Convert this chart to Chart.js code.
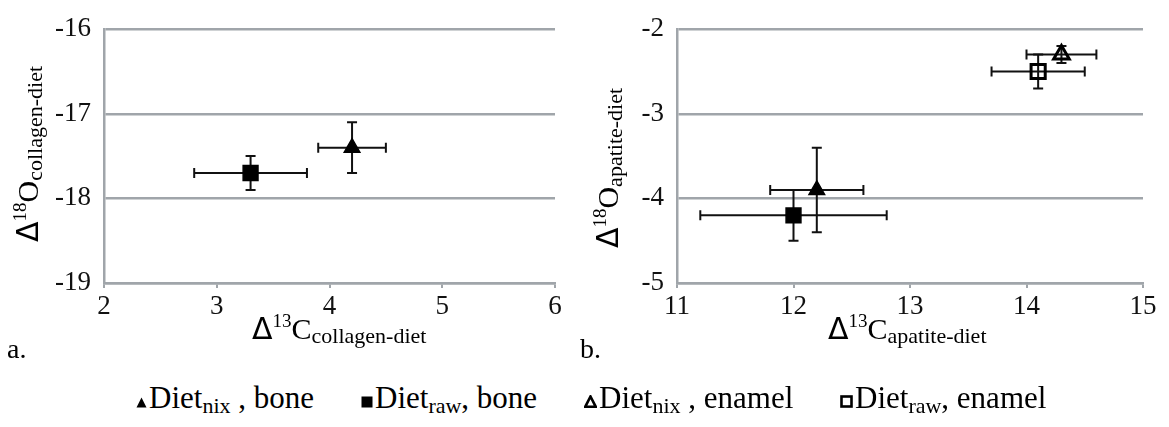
<!DOCTYPE html>
<html><head><meta charset="utf-8">
<script src="https://cdn.jsdelivr.net/npm/chart.js@4.4.1/dist/chart.umd.min.js"></script>
<style>
html,body{margin:0;padding:0;background:#fff;}
#wrap{position:relative;width:1169px;height:427px;overflow:hidden;font-family:"Liberation Serif","Times New Roman",serif;color:#000;}
canvas{position:absolute;top:0;}
.t{position:absolute;white-space:nowrap;line-height:1;}
.d{font-family:"DejaVu Sans","Liberation Sans",sans-serif;}
.big{font-size:30px;}
.sup{font-size:19px;vertical-align:12px;}
.sub{font-size:22px;vertical-align:-4px;}
.rot{transform:translate(-50%,-50%) rotate(-90deg);}
.leg{font-size:31px;}
.lsub{font-size:22px;vertical-align:-5px;}
.leg svg{vertical-align:0px;margin-right:2px;}
</style>
</head><body>
<div id="wrap">
  <canvas id="ca" width="580" height="320" style="left:0"></canvas>
  <canvas id="cb" width="589" height="320" style="left:580px"></canvas>

  <div class="t big" style="left:252px;top:311px"><span class="d">Δ</span><span class="sup">13</span>C<span class="sub">collagen-diet</span></div>
  <div class="t big" style="left:828px;top:311px"><span class="d">Δ</span><span class="sup">13</span>C<span class="sub">apatite-diet</span></div>

  <div class="t big rot" style="left:28px;top:154px"><span class="d">Δ</span><span class="sup">18</span>O<span class="sub">collagen-diet</span></div>
  <div class="t big rot" style="left:608px;top:168px"><span class="d">Δ</span><span class="sup">18</span>O<span class="sub">apatite-diet</span></div>

  <div class="t" style="left:7px;top:335px;font-size:28px">a.</div>
  <div class="t" style="left:580px;top:335px;font-size:28px">b.</div>

  <div id="legend"></div>
</div>
<script>
// Series (legend order)
const seriesNames = ['Diet', 'Diet', 'Diet', 'Diet'];
const seriesSubs  = ['nix', 'raw', 'nix', 'raw'];
const seriesTails = [' , bone', ', bone', ' , enamel', ', enamel'];
const seriesMarkers = ['triangle', 'rect', 'triangle', 'rect'];
const seriesFilled  = [true, true, false, false];

// Panel a: collagen (bone only) – series 0,1
const collagenC    = [4.2, 3.3];
const collagenO    = [-17.4, -17.7];
const collagenCErr = [0.3, 0.5];
const collagenOErr = [0.3, 0.2];

// Panel b: apatite – series 0..3
const apatiteC    = [12.2, 12.0, 14.3, 14.1];
const apatiteO    = [-3.9, -4.2, -2.3, -2.5];
const apatiteCErr = [0.4, 0.8, 0.3, 0.4];
const apatiteOErr = [0.5, 0.3, 0.1, 0.2];

// Axis ranges / ticks
const collagenXTicks = [2, 3, 4, 5, 6];
const collagenYTicks = [-19, -18, -17, -16];
const apatiteXTicks  = [11, 12, 13, 14, 15];
const apatiteYTicks  = [-5, -4, -3, -2];

const GRID = '#a0a5aa';
const FONT = 'Liberation Serif';
const TICK_SIZE = 27;

const errorBars = {
  id: 'errorBars',
  beforeDatasetsDraw(chart) {
    const {ctx} = chart;
    const xs = chart.scales.x, ys = chart.scales.y;
    const cap = 5;
    ctx.save();
    ctx.strokeStyle = '#111';
    ctx.lineWidth = 2;
    chart.data.datasets.forEach(ds => {
      ds.data.forEach((p, i) => {
        const ex = ds.xErr[i], ey = ds.yErr[i];
        const px = xs.getPixelForValue(p.x), py = ys.getPixelForValue(p.y);
        const x0 = xs.getPixelForValue(p.x - ex), x1 = xs.getPixelForValue(p.x + ex);
        const y0 = ys.getPixelForValue(p.y - ey), y1 = ys.getPixelForValue(p.y + ey);
        ctx.beginPath();
        ctx.moveTo(x0, py); ctx.lineTo(x1, py);
        ctx.moveTo(x0, py - cap); ctx.lineTo(x0, py + cap);
        ctx.moveTo(x1, py - cap); ctx.lineTo(x1, py + cap);
        ctx.moveTo(px, y0); ctx.lineTo(px, y1);
        ctx.moveTo(px - cap, y0); ctx.lineTo(px + cap, y0);
        ctx.moveTo(px - cap, y1); ctx.lineTo(px + cap, y1);
        ctx.stroke();
      });
    });
    ctx.restore();
  }
};

// draws the scales' own tick labels in the serif face (Chart.js labels are kept for layout)
const serifTicks = {
  id: 'serifTicks',
  afterDraw(chart) {
    try {
      const ctx = chart.ctx;
      const area = chart.chartArea;
      ctx.save();
      ctx.font = TICK_SIZE + 'px ' + FONT;
      ctx.fillStyle = '#111';
      const xs = chart.scales.x;
      ctx.textAlign = 'center';
      ctx.textBaseline = 'middle';
      xs.ticks.forEach(t => {
        ctx.fillText(String(t.value), xs.getPixelForValue(t.value), area.bottom + 8 + TICK_SIZE * 0.6);
      });
      const ys = chart.scales.y;
      ctx.textAlign = 'right';
      ys.ticks.forEach(t => {
        ctx.fillText(String(t.value), area.left - 13, ys.getPixelForValue(t.value));
      });
      ctx.restore();
    } catch (e) { /* keep chart intact */ }
  }
};

function dataset(idx, xv, yv, xe, ye) {
  const filled = seriesFilled[idx];
  const tri = seriesMarkers[idx] === 'triangle';
  return {
    label: seriesNames[idx] + ' ' + seriesSubs[idx] + seriesTails[idx],
    data: [{x: xv, y: yv}],
    xErr: [xe], yErr: [ye],
    pointStyle: seriesMarkers[idx],
    pointRadius: tri ? 9 : (filled ? 10.5 : 10),
    pointHoverRadius: tri ? 9 : 10,
    backgroundColor: filled ? '#000' : 'rgba(0,0,0,0)',
    borderColor: '#000',
    borderWidth: filled ? 1.5 : 3,
    showLine: false
  };
}

function makeChart(id, datasets, xr, yr, yWidth, pad) {
  return new Chart(document.getElementById(id), {
    type: 'scatter',
    data: {datasets},
    plugins: [errorBars, serifTicks],
    options: {
      responsive: false, animation: false, devicePixelRatio: 1,
      layout: {padding: pad},
      plugins: {legend: {display: false}, tooltip: {enabled: false}},
      scales: {
        x: {
          type: 'linear', min: xr[0], max: xr[xr.length - 1],
          afterBuildTicks: s => { s.ticks = xr.map(v => ({value: v})); },
          grid: {drawOnChartArea: false, drawTicks: true, tickLength: 5, color: GRID, lineWidth: 2},
          border: {display: true, color: GRID, width: 2.5},
          ticks: {padding: 3, color: 'rgba(0,0,0,0)', font: {family: FONT, size: TICK_SIZE}},
          afterFit: s => { s.height = 37; }
        },
        y: {
          type: 'linear', min: yr[0], max: yr[yr.length - 1],
          afterBuildTicks: s => { s.ticks = yr.map(v => ({value: v})); },
          grid: {drawTicks: false, color: GRID, lineWidth: 2.5},
          border: {display: true, color: GRID, width: 2.5},
          ticks: {padding: 13, color: 'rgba(0,0,0,0)', font: {family: FONT, size: TICK_SIZE}},
          afterFit: s => { s.width = yWidth; }
        }
      }
    }
  });
}

Chart.defaults.font.family = FONT;
const charts = [];
charts.push(makeChart('ca', [
  dataset(0, collagenC[0], collagenO[0], collagenCErr[0], collagenOErr[0]),
  dataset(1, collagenC[1], collagenO[1], collagenCErr[1], collagenOErr[1])
], collagenXTicks, collagenYTicks, 104, {top: 23, right: 25, left: 0, bottom: 0}));

charts.push(makeChart('cb', apatiteC.map((c, i) => dataset(i, c, apatiteO[i], apatiteCErr[i], apatiteOErr[i])),
  apatiteXTicks, apatiteYTicks, 97, {top: 21, right: 26, left: 0, bottom: 0}));

function redraw() { charts.forEach(c => c.render()); }
setTimeout(redraw, 5);
setTimeout(redraw, 25);
window.addEventListener('load', redraw);
if (document.fonts) document.fonts.ready.then(redraw);

// HTML legend
const legendX = [136, 361, 584, 840];
const legend = document.getElementById('legend');
seriesNames.forEach((n, i) => {
  const d = document.createElement('div');
  d.className = 't leg';
  d.style.left = legendX[i] + 'px';
  d.style.top = '382px';
  const tri = seriesMarkers[i] === 'triangle';
  const filled = seriesFilled[i];
  let svg;
  if (tri) {
    svg = filled
      ? '<svg width="11" height="11"><polygon points="5.5,0.5 10.5,10.5 0.5,10.5" fill="#000"/></svg>'
      : '<svg width="13" height="13"><polygon points="6.5,1.5 11.8,11.8 1.2,11.8" fill="none" stroke="#000" stroke-width="2.6"/></svg>';
  } else {
    svg = filled
      ? '<svg width="12" height="12"><rect x="0.5" y="0.5" width="11" height="11" fill="#000"/></svg>'
      : '<svg width="13" height="13"><rect x="1.5" y="1.5" width="10" height="10" fill="none" stroke="#000" stroke-width="2.6"/></svg>';
  }
  d.innerHTML = svg + n + '<span class="lsub">' + seriesSubs[i] + '</span>' + seriesTails[i];
  legend.appendChild(d);
});
</script>
</body></html>
